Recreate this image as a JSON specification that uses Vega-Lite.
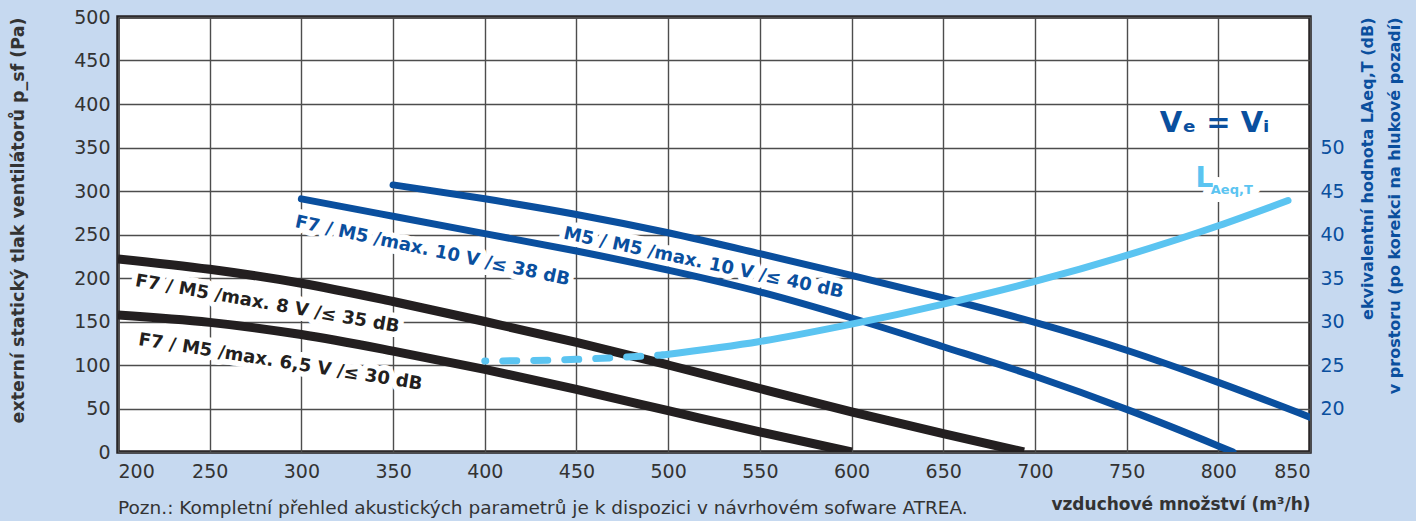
{
  "$schema": "https://vega.github.io/schema/vega-lite/v6.json",
  "autosize": {"type": "none"},
  "width": 1192,
  "height": 435,
  "padding": {"left": 118, "top": 17, "right": 106, "bottom": 69},
  "background": "#c6d9f0",
  "config": {
    "view": {"fill": "white", "stroke": "#231f20", "strokeWidth": 3.5},
    "font": "DejaVu Sans",
    "axis": {
      "labelFont": "DejaVu Sans",
      "labelFontSize": 19,
      "labelColor": "#333333",
      "tickSize": 0,
      "domain": false,
      "gridColor": "#4d4d4d",
      "gridWidth": 1.4,
      "gridOpacity": 1,
      "titleFont": "DejaVu Sans",
      "titleFontSize": 17,
      "titleFontWeight": "bold",
      "titleColor": "#333333"
    }
  },
  "title": {
    "text": "Pozn.: Kompletní přehled akustických parametrů je k dispozici v návrhovém sofware ATREA.",
    "orient": "bottom",
    "anchor": "start",
    "frame": "group",
    "font": "DejaVu Sans",
    "fontSize": 18.5,
    "fontWeight": "normal",
    "color": "#333333",
    "offset": -13
  },
  "datasets": {
    "curves": [
      {"flow": 200, "pa": 222, "series": "8V"},
      {"flow": 250, "pa": 210, "series": "8V"},
      {"flow": 300, "pa": 194, "series": "8V"},
      {"flow": 350, "pa": 173, "series": "8V"},
      {"flow": 400, "pa": 150, "series": "8V"},
      {"flow": 450, "pa": 126, "series": "8V"},
      {"flow": 500, "pa": 100, "series": "8V"},
      {"flow": 550, "pa": 73, "series": "8V"},
      {"flow": 600, "pa": 46, "series": "8V"},
      {"flow": 650, "pa": 21, "series": "8V"},
      {"flow": 694, "pa": 0, "series": "8V"},
      {"flow": 200, "pa": 157.5, "series": "6.5V"},
      {"flow": 250, "pa": 149, "series": "6.5V"},
      {"flow": 300, "pa": 135, "series": "6.5V"},
      {"flow": 350, "pa": 116, "series": "6.5V"},
      {"flow": 400, "pa": 95, "series": "6.5V"},
      {"flow": 450, "pa": 72, "series": "6.5V"},
      {"flow": 500, "pa": 47.5, "series": "6.5V"},
      {"flow": 550, "pa": 23, "series": "6.5V"},
      {"flow": 600, "pa": 0, "series": "6.5V"},
      {"flow": 300, "pa": 291, "series": "38dB"},
      {"flow": 350, "pa": 271, "series": "38dB"},
      {"flow": 400, "pa": 251, "series": "38dB"},
      {"flow": 450, "pa": 231, "series": "38dB"},
      {"flow": 500, "pa": 209, "series": "38dB"},
      {"flow": 550, "pa": 184, "series": "38dB"},
      {"flow": 600, "pa": 154, "series": "38dB"},
      {"flow": 650, "pa": 121, "series": "38dB"},
      {"flow": 700, "pa": 87, "series": "38dB"},
      {"flow": 750, "pa": 49, "series": "38dB"},
      {"flow": 800, "pa": 7, "series": "38dB"},
      {"flow": 808, "pa": 0, "series": "38dB"},
      {"flow": 350, "pa": 307, "series": "40dB"},
      {"flow": 400, "pa": 291, "series": "40dB"},
      {"flow": 450, "pa": 273, "series": "40dB"},
      {"flow": 500, "pa": 252, "series": "40dB"},
      {"flow": 550, "pa": 228, "series": "40dB"},
      {"flow": 600, "pa": 203, "series": "40dB"},
      {"flow": 650, "pa": 177, "series": "40dB"},
      {"flow": 700, "pa": 149, "series": "40dB"},
      {"flow": 750, "pa": 117, "series": "40dB"},
      {"flow": 800, "pa": 80, "series": "40dB"},
      {"flow": 850, "pa": 40, "series": "40dB"}
    ],
    "noise": [
      {"flow": 400, "db": 25.45, "seg": "dashed"},
      {"flow": 450, "db": 25.65, "seg": "dashed"},
      {"flow": 497, "db": 26.15, "seg": "dashed"},
      {"flow": 497, "db": 26.15, "seg": "solid"},
      {"flow": 550, "db": 27.7, "seg": "solid"},
      {"flow": 600, "db": 29.7, "seg": "solid"},
      {"flow": 650, "db": 32.0, "seg": "solid"},
      {"flow": 700, "db": 34.6, "seg": "solid"},
      {"flow": 750, "db": 37.6, "seg": "solid"},
      {"flow": 800, "db": 41.0, "seg": "solid"},
      {"flow": 838, "db": 43.9, "seg": "solid"}
    ],
    "labels": [
      {"id": "l8", "flow": 281.4, "pa": 169.8, "text": "F7 / M5 /max. 8 V /≤ 35 dB"},
      {"id": "l65", "flow": 288.5, "pa": 103, "text": "F7 / M5 /max. 6,5 V /≤ 30 dB"},
      {"id": "l38", "flow": 371.4, "pa": 230.7, "text": "F7 / M5 /max. 10 V /≤ 38 dB"},
      {"id": "l40", "flow": 519.3, "pa": 216.9, "text": "M5 / M5 /max. 10 V /≤ 40 dB"},
      {"id": "ve", "flow": 798, "pa": 367.5, "text": "Vₑ = Vᵢ"},
      {"id": "L", "flow": 787.6, "pa": 305, "text": "L"},
      {"id": "Lsub", "flow": 795.9, "pa": 296.2, "text": "Aeq,T"}
    ]
  },
  "layer": [
    {
      "layer": [
        {
          "data": {"name": "labels"},
          "transform": [{"filter": "datum.id === 'l8'"}],
          "mark": {"type": "text", "angle": 10, "fontSize": 18, "fontWeight": "bold", "stroke": "white", "strokeWidth": 11, "fill": "white", "strokeJoin": "round"},
          "encoding": {
            "x": {"field": "flow", "type": "quantitative", "scale": {"domain": [200, 850], "nice": false},
              "axis": {"values": [200, 250, 300, 350, 400, 450, 500, 550, 600, 650, 700, 750, 800, 850], "title": "vzduchové množství (m³/h)", "titleAnchor": "end", "labelPadding": 10, "titlePadding": 15, "grid": true}},
            "y": {"field": "pa", "type": "quantitative", "scale": {"domain": [0, 500], "nice": false},
              "axis": {"values": [0, 50, 100, 150, 200, 250, 300, 350, 400, 450, 500], "title": "externí statický tlak ventilátorů p_sf (Pa)", "titleAnchor": "end", "titleFontSize": 17.5, "labelPadding": 8, "titlePadding": 46, "grid": true}},
            "text": {"field": "text"}
          }
        },
        {
          "data": {"name": "labels"},
          "transform": [{"filter": "datum.id === 'l65'"}],
          "mark": {"type": "text", "angle": 9, "fontSize": 18, "fontWeight": "bold", "stroke": "white", "strokeWidth": 11, "fill": "white", "strokeJoin": "round"},
          "encoding": {
            "x": {"field": "flow", "type": "quantitative"},
            "y": {"field": "pa", "type": "quantitative"},
            "text": {"field": "text"}
          }
        },
        {
          "data": {"name": "labels"},
          "transform": [{"filter": "datum.id === 'l38' || datum.id === 'l40'"}],
          "mark": {"type": "text", "angle": 12, "fontSize": 18, "fontWeight": "bold", "stroke": "white", "strokeWidth": 11, "fill": "white", "strokeJoin": "round"},
          "encoding": {
            "x": {"field": "flow", "type": "quantitative"},
            "y": {"field": "pa", "type": "quantitative"},
            "text": {"field": "text"}
          }
        },
        {
          "data": {"name": "labels"},
          "transform": [{"filter": "datum.id === 'Lsub'"}],
          "mark": {"type": "text", "align": "left", "baseline": "alphabetic", "fontSize": 13, "fontWeight": "bold", "stroke": "white", "strokeWidth": 16, "fill": "white", "strokeJoin": "round"},
          "encoding": {
            "x": {"field": "flow", "type": "quantitative"},
            "y": {"field": "pa", "type": "quantitative"},
            "text": {"field": "text"}
          }
        },
        {
          "data": {"name": "curves"},
          "transform": [{"filter": "datum.series === '8V' || datum.series === '6.5V'"}],
          "mark": {"type": "line", "interpolate": "monotone", "color": "#231f20", "strokeWidth": 9, "strokeCap": "butt", "clip": true},
          "encoding": {
            "x": {"field": "flow", "type": "quantitative"},
            "y": {"field": "pa", "type": "quantitative"},
            "detail": {"field": "series"}
          }
        },
        {
          "data": {"name": "curves"},
          "transform": [{"filter": "datum.series === '38dB' || datum.series === '40dB'"}],
          "mark": {"type": "line", "interpolate": "monotone", "color": "#0a4f9e", "strokeWidth": 7, "strokeCap": "round", "clip": true},
          "encoding": {
            "x": {"field": "flow", "type": "quantitative"},
            "y": {"field": "pa", "type": "quantitative"},
            "detail": {"field": "series"}
          }
        },
        {
          "data": {"name": "labels"},
          "transform": [{"filter": "datum.id === 'l8'"}],
          "mark": {"type": "text", "angle": 10, "fontSize": 18, "fontWeight": "bold", "color": "#231f20"},
          "encoding": {
            "x": {"field": "flow", "type": "quantitative"},
            "y": {"field": "pa", "type": "quantitative"},
            "text": {"field": "text"}
          }
        },
        {
          "data": {"name": "labels"},
          "transform": [{"filter": "datum.id === 'l65'"}],
          "mark": {"type": "text", "angle": 9, "fontSize": 18, "fontWeight": "bold", "color": "#231f20"},
          "encoding": {
            "x": {"field": "flow", "type": "quantitative"},
            "y": {"field": "pa", "type": "quantitative"},
            "text": {"field": "text"}
          }
        },
        {
          "data": {"name": "labels"},
          "transform": [{"filter": "datum.id === 'l38' || datum.id === 'l40'"}],
          "mark": {"type": "text", "angle": 12, "fontSize": 18, "fontWeight": "bold", "color": "#0a4f9e"},
          "encoding": {
            "x": {"field": "flow", "type": "quantitative"},
            "y": {"field": "pa", "type": "quantitative"},
            "text": {"field": "text"}
          }
        },
        {
          "data": {"name": "labels"},
          "transform": [{"filter": "datum.id === 've'"}],
          "mark": {"type": "text", "baseline": "alphabetic", "fontSize": 29, "fontWeight": "bold", "color": "#0a4f9e"},
          "encoding": {
            "x": {"field": "flow", "type": "quantitative"},
            "y": {"field": "pa", "type": "quantitative"},
            "text": {"field": "text"}
          }
        },
        {
          "data": {"name": "labels"},
          "transform": [{"filter": "datum.id === 'L'"}],
          "mark": {"type": "text", "align": "left", "baseline": "alphabetic", "fontSize": 28, "fontWeight": "bold", "color": "#5bc4f1"},
          "encoding": {
            "x": {"field": "flow", "type": "quantitative"},
            "y": {"field": "pa", "type": "quantitative"},
            "text": {"field": "text"}
          }
        },
        {
          "data": {"name": "labels"},
          "transform": [{"filter": "datum.id === 'Lsub'"}],
          "mark": {"type": "text", "align": "left", "baseline": "alphabetic", "fontSize": 13, "fontWeight": "bold", "color": "#5bc4f1"},
          "encoding": {
            "x": {"field": "flow", "type": "quantitative"},
            "y": {"field": "pa", "type": "quantitative"},
            "text": {"field": "text"}
          }
        }
      ]
    },
    {
      "data": {"name": "noise"},
      "layer": [
        {
          "transform": [{"filter": "datum.seg === 'dashed'"}],
          "mark": {"type": "line", "interpolate": "monotone", "color": "#5bc4f1", "strokeWidth": 7, "strokeCap": "round", "strokeDash": [14, 17], "strokeDashOffset": 13},
          "encoding": {
            "x": {"field": "flow", "type": "quantitative"},
            "y": {"field": "db", "type": "quantitative", "scale": {"domain": [15, 65], "nice": false},
              "axis": {"orient": "right", "values": [20, 25, 30, 35, 40, 45, 50], "grid": false, "labelColor": "#0a4f9e", "labelPadding": 10,
                "title": ["ekvivalentní hodnota LAeq,T (dB)", "v prostoru (po korekci na hlukové pozadí)"],
                "titleAngle": 270, "titleBaseline": "top", "titleAnchor": "end", "titleColor": "#0a4f9e", "titleFontSize": 16, "titleLineHeight": 27, "titlePadding": -12}}
          }
        },
        {
          "transform": [{"filter": "datum.seg === 'solid'"}],
          "mark": {"type": "line", "interpolate": "monotone", "color": "#5bc4f1", "strokeWidth": 7, "strokeCap": "round"},
          "encoding": {
            "x": {"field": "flow", "type": "quantitative"},
            "y": {"field": "db", "type": "quantitative"}
          }
        }
      ]
    }
  ],
  "resolve": {"scale": {"y": "independent"}}
}
